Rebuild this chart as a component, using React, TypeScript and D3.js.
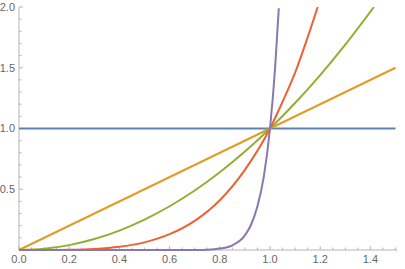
import * as d3 from "d3";

// values (x, y pairs per curve)
const flatX = [0, 1.5];
const flatY = [1, 1];

const linX = [0, 1.5];
const linY = [0, 1.5];

const sqX = [0, 0.1, 0.2, 0.3, 0.4, 0.5, 0.6, 0.7, 0.8, 0.9, 1.0, 1.1, 1.2, 1.3, 1.414];
const sqY = [0, 0.01, 0.04, 0.09, 0.16, 0.25, 0.36, 0.49, 0.64, 0.81, 1.0, 1.21, 1.44, 1.69, 2.0];

const quX = [0, 0.1, 0.2, 0.3, 0.4, 0.5, 0.6, 0.7, 0.8, 0.9, 1.0, 1.05, 1.1, 1.15, 1.19];
const quY = [0, 0.0001, 0.0016, 0.008, 0.026, 0.063, 0.13, 0.24, 0.41, 0.66, 1.0, 1.22, 1.46, 1.75, 2.0];

const hiX = [0, 0.5, 0.7, 0.75, 0.8, 0.85, 0.9, 0.925, 0.95, 0.975, 1.0, 1.02, 1.035];
const hiY = [0, 0, 0.0008, 0.003, 0.012, 0.039, 0.12, 0.21, 0.36, 0.6, 1.0, 1.49, 1.99];

const series = [
  { xs: flatX, ys: flatY, color: "#5e81b5" },
  { xs: linX, ys: linY, color: "#e19c24" },
  { xs: sqX, ys: sqY, color: "#8fb032" },
  { xs: quX, ys: quY, color: "#eb6235" },
  { xs: hiX, ys: hiY, color: "#8778b3" },
];

const xTicks = [0, 0.2, 0.4, 0.6, 0.8, 1.0, 1.2, 1.4];
const yTicks = [0.5, 1.0, 1.5, 2.0];

export default function App() {
  const W = 405;
  const H = 269;
  const x = d3.scaleLinear().domain([0, 1]).range([19, 270]);
  const y = d3.scaleLinear().domain([0, 2]).range([250, 7]);
  const axisColor = "#b5b5b5";
  const labelColor = "#666";

  const xMinor = d3.range(0, 1.5001, 0.05).filter(
    (v) => Math.abs(v / 0.2 - Math.round(v / 0.2)) > 1e-6
  );
  const yMinor = d3.range(0, 2.0001, 0.1).filter(
    (v) => Math.abs(v / 0.5 - Math.round(v / 0.5)) > 1e-6
  );

  const line = d3
    .line<[number, number]>()
    .x((d) => x(d[0]))
    .y((d) => y(d[1]))
    .curve(d3.curveMonotoneX);

  return (
    <svg
      width={W}
      height={H}
      style={{ position: "absolute", left: 0, top: 0, background: "#fff" }}
      fontFamily="Liberation Sans, Arial, sans-serif"
      fontSize={11}
    >
      <defs>
        <clipPath id="plot">
          <rect x={x(0) - 2} y={y(2)} width={x(1.5) - x(0) + 4} height={y(0) - y(2) + 2} />
        </clipPath>
      </defs>
      {/* axes */}
      <line x1={x(0)} x2={x(1.5) + 2} y1={y(0)} y2={y(0)} stroke={axisColor} strokeWidth={1} />
      <line x1={x(0)} x2={x(0)} y1={y(0)} y2={y(2)} stroke={axisColor} strokeWidth={1} />
      {xTicks.map((t) => (
        <g key={"xt" + t}>
          <line x1={x(t)} x2={x(t)} y1={y(0)} y2={y(0) - 4} stroke={axisColor} />
          <text x={x(t)} y={y(0) + 13} textAnchor="middle" fill={labelColor}>
            {t.toFixed(1)}
          </text>
        </g>
      ))}
      {xMinor.map((t) => (
        <line key={"xm" + t} x1={x(t)} x2={x(t)} y1={y(0)} y2={y(0) - 2.5} stroke={axisColor} />
      ))}
      {yTicks.map((t) => (
        <g key={"yt" + t}>
          <line x1={x(0)} x2={x(0) + 4} y1={y(t)} y2={y(t)} stroke={axisColor} />
          <text x={x(0) - 4} y={y(t)} dy="0.35em" textAnchor="end" fill={labelColor}>
            {t.toFixed(1)}
          </text>
        </g>
      ))}
      {yMinor.map((t) => (
        <line key={"ym" + t} x1={x(0)} x2={x(0) + 2.5} y1={y(t)} y2={y(t)} stroke={axisColor} />
      ))}
      {/* curves */}
      <g clipPath="url(#plot)">
        {series.map((s, i) => (
          <path
            key={i}
            d={line(s.xs.map((v, j) => [v, s.ys[j]] as [number, number])) ?? ""}
            fill="none"
            stroke={s.color}
            strokeWidth={2}
          />
        ))}
      </g>
    </svg>
  );
}
